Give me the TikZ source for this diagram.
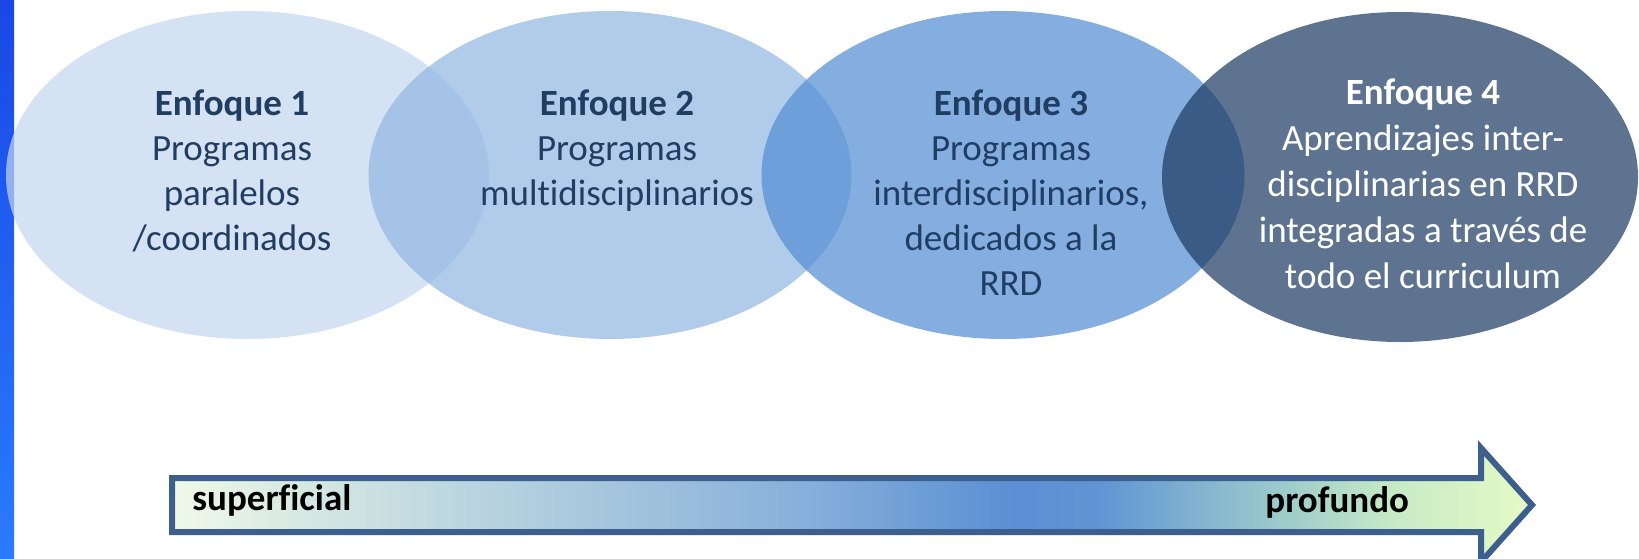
\documentclass[tikz,border=0pt]{standalone}
\usepackage{fontspec}
\setmainfont[Ligatures={NoCommon}]{Carlito}
\usetikzlibrary{shapes.geometric}
\definecolor{txtblue}{HTML}{203D62}
\definecolor{cA}{HTML}{C4D7EF}
\definecolor{cB}{HTML}{91B5E3}
\definecolor{cC}{HTML}{528DD4}
\definecolor{cD}{HTML}{193860}
\definecolor{arrowborder}{HTML}{3C5F8D}
\definecolor{barTop}{HTML}{1A47E6}
\definecolor{barBot}{HTML}{2A7BFF}
\definecolor{s0}{HTML}{F0F9E8}
\definecolor{s1}{HTML}{D6E8E2}
\definecolor{s2}{HTML}{BDD7E0}
\definecolor{s3}{HTML}{A6C6DD}
\definecolor{s4}{HTML}{88B0DA}
\definecolor{s5}{HTML}{5A8FD4}
\definecolor{s6}{HTML}{5F95D4}
\definecolor{s7}{HTML}{82B3CF}
\definecolor{s8}{HTML}{A3CFCA}
\definecolor{s9}{HTML}{C8EBC6}
\definecolor{s10}{HTML}{E6FAC6}
\pgfdeclarehorizontalshading{arrowshade}{100bp}{color(0bp)=(s0); color(25bp)=(s0); color(29.8bp)=(s1); color(35.3bp)=(s2); color(40.8bp)=(s3); color(48.1bp)=(s4); color(55.9bp)=(s5); color(59.1bp)=(s6); color(62.7bp)=(s7); color(66.4bp)=(s8); color(70bp)=(s9); color(75bp)=(s10); color(100bp)=(s10)}
\tikzset{
  ell/.style={ellipse, inner sep=0pt, draw=none, fill opacity=0.7},
  ltxt/.style={align=center, text=txtblue, font=\fontsize{18.5pt}{22.5pt}\selectfont, inner sep=0pt, anchor=base},
  wtxt/.style={align=center, text=white, font=\fontsize{18.5pt}{23pt}\selectfont, inner sep=0pt, anchor=base},
  scaletxt/.style={font=\fontsize{18.5pt}{22pt}\selectfont\bfseries, text=black, inner sep=0pt, anchor=base west}
}
\begin{document}
\begin{tikzpicture}[x=0.5pt, y=-0.5pt]
\useasboundingbox (0,0) rectangle (1639,558);
\fill[white] (0,0) rectangle (1639,558);
\shade[top color=barTop, bottom color=barBot] (0,0) rectangle (14,558);
% ellipses
\node[ell, minimum width=241.5pt, minimum height=164pt, fill=cA] (e1) at (247.5,175) {};
\node[ell, minimum width=241.5pt, minimum height=164pt, fill=cB] (e2) at (610,175) {};
\node[ell, minimum width=241.5pt, minimum height=164pt, fill=cC] (e3) at (1003,175) {};
\node[ell, minimum width=238pt, minimum height=165pt, fill=cD] (e4) at (1400,177) {};
% texts (anchor=base is the baseline of the last line)
\node[ltxt] (t1) at (232,250) {\textbf{Enfoque 1}\\Programas\\paralelos\\/coordinados};
\node[ltxt] (t2) at (617,205) {\textbf{Enfoque 2}\\Programas\\multidisciplinarios};
\node[ltxt] (t3) at (1011,295) {\textbf{Enfoque 3}\\Programas\\interdisciplinarios,\\dedicados a la\\RRD};
\node[wtxt] (t4) at (1423,288) {\textbf{Enfoque 4}\\Aprendizajes inter-\\disciplinarias en RRD\\integradas a través de\\todo el curriculum};
% arrow
\path[shading=arrowshade, draw=arrowborder, line width=3pt, line join=miter]
  (172,478) -- (1481,478) -- (1481,448) -- (1532,505) -- (1481,562) -- (1481,532) -- (172,532) -- cycle;
\node[scaletxt] (sup) at (192,510) {superficial};
\node[scaletxt] (pro) at (1265,512) {profundo};
\end{tikzpicture}
\end{document}
